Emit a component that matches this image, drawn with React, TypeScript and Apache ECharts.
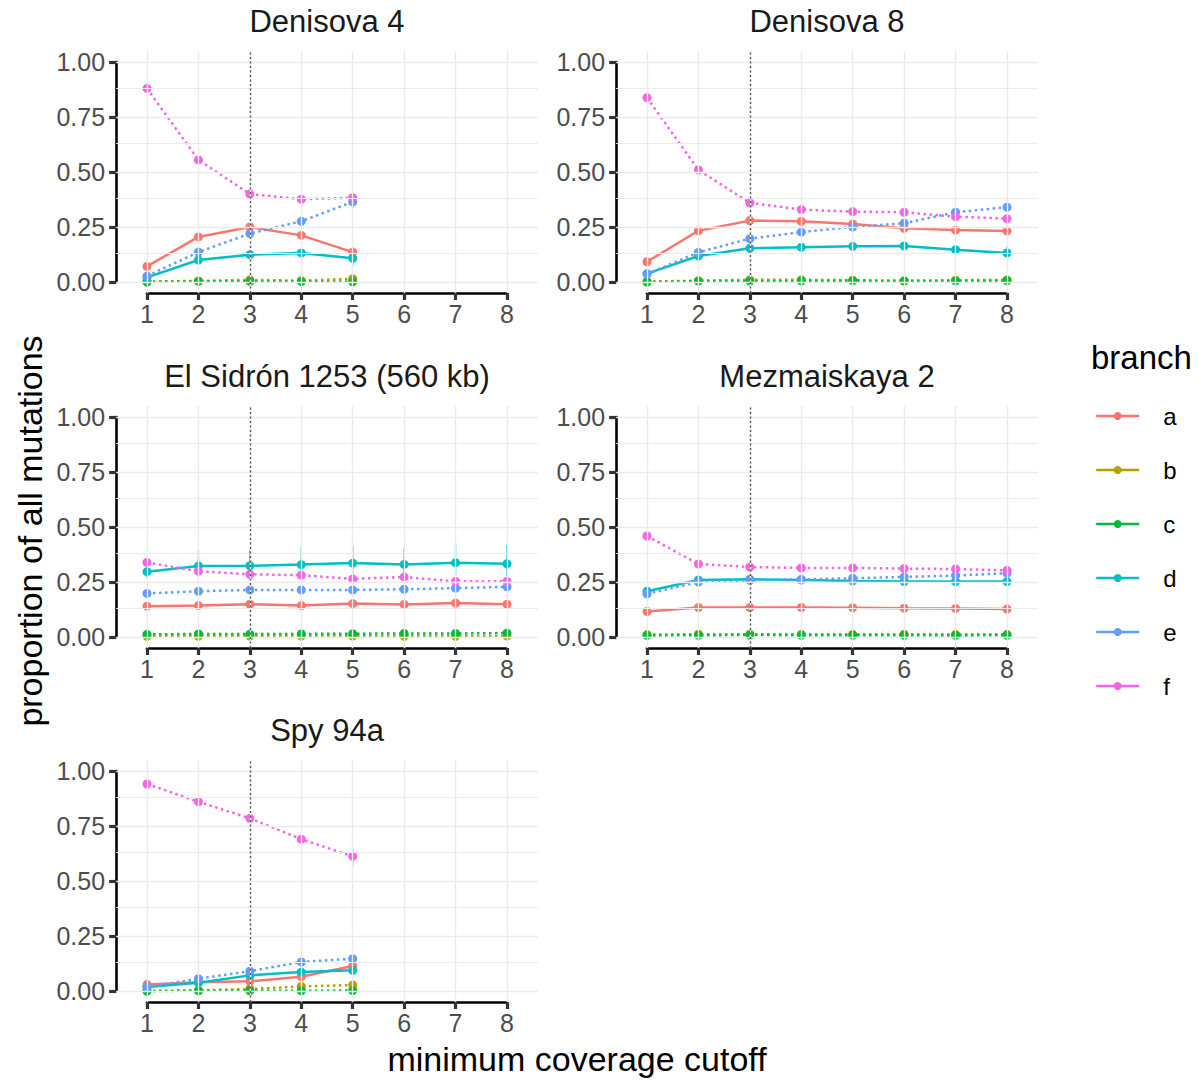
import React, { useEffect, useRef } from 'react';
import * as echarts from 'echarts';

// ---------- data ----------
const cutoffs = [1, 2, 3, 4, 5, 6, 7, 8];
const referenceCutoff = 3;
const xBreaks = [1, 2, 3, 4, 5, 6, 7, 8];
const yBreaks = [0, 0.25, 0.5, 0.75, 1];
const yMinorBreaks = [0.125, 0.375, 0.625, 0.875];

const branches = ['a', 'b', 'c', 'd', 'e', 'f'];
const branchColors = ['#F8766D', '#B79F00', '#00BA38', '#00BFC4', '#619CFF', '#F564E3'];
const branchDotted = [false, true, true, false, true, true];

const panelTitles = ['Denisova 4', 'Denisova 8', 'El Sidrón 1253 (560 kb)', 'Mezmaiskaya 2', 'Spy 94a'];

// rows: branch a..f, columns: cutoff 1..n
const denisova4 = [
  [0.071, 0.205, 0.25, 0.212, 0.136],
  [0.002, 0.005, 0.01, 0.006, 0.015],
  [0.0, 0.003, 0.003, 0.002, 0.001],
  [0.021, 0.1, 0.124, 0.132, 0.108],
  [0.027, 0.136, 0.22, 0.276, 0.364],
  [0.88, 0.555, 0.4, 0.376, 0.383],
];
const denisova8 = [
  [0.092, 0.233, 0.279, 0.276, 0.264, 0.244, 0.236, 0.232],
  [0.002, 0.006, 0.01, 0.01, 0.008, 0.006, 0.008, 0.01],
  [0.0, 0.004, 0.004, 0.005, 0.006, 0.004, 0.005, 0.006],
  [0.038, 0.118, 0.153, 0.158, 0.162, 0.164, 0.147, 0.132],
  [0.036, 0.135, 0.197, 0.227, 0.25, 0.267, 0.317, 0.34],
  [0.838, 0.509, 0.36, 0.329, 0.32, 0.317, 0.297, 0.288],
];
const elSidron = [
  [0.14, 0.143, 0.149, 0.143, 0.152, 0.148, 0.154, 0.149],
  [0.003, 0.003, 0.004, 0.004, 0.004, 0.003, 0.003, 0.004],
  [0.012, 0.014, 0.013, 0.014, 0.015, 0.016, 0.016, 0.018],
  [0.297, 0.323, 0.324, 0.329, 0.336, 0.33, 0.338, 0.333],
  [0.198, 0.208, 0.214, 0.214, 0.214, 0.217, 0.222, 0.228],
  [0.339, 0.299, 0.285, 0.281, 0.264, 0.273, 0.253, 0.253],
];
const mezmaiskaya2 = [
  [0.116, 0.134, 0.134, 0.134, 0.133, 0.131, 0.13, 0.127],
  [0.011, 0.013, 0.013, 0.012, 0.012, 0.013, 0.012, 0.012],
  [0.007, 0.008, 0.009, 0.008, 0.008, 0.008, 0.007, 0.008],
  [0.208, 0.259, 0.262, 0.259, 0.255, 0.252, 0.252, 0.252],
  [0.196, 0.25, 0.258, 0.262, 0.267, 0.273, 0.279, 0.29],
  [0.459, 0.332, 0.318, 0.314, 0.314, 0.311, 0.309, 0.303],
];
const spy94a = [
  [0.03, 0.04, 0.044, 0.065, 0.114],
  [0.0, 0.003, 0.009, 0.021, 0.027],
  [0.0, 0.001, 0.001, 0.001, 0.002],
  [0.018, 0.038, 0.071, 0.086, 0.094],
  [0.018, 0.056, 0.09, 0.132, 0.147],
  [0.941, 0.86, 0.785, 0.69, 0.612],
];

// error ranges: [cutoff, branch index, low, high]
const denisova4Err = [[5, 3, 0.07, 0.16], [5, 4, 0.335, 0.39], [5, 5, 0.37, 0.4]];
const denisova8Err = [[8, 3, 0.11, 0.16], [7, 3, 0.13, 0.165], [8, 4, 0.32, 0.36]];
const elSidronErr = [
  [1, 3, 0.27, 0.33], [2, 3, 0.27, 0.392], [3, 3, 0.27, 0.395], [4, 3, 0.28, 0.409],
  [5, 3, 0.28, 0.415], [6, 3, 0.28, 0.407], [7, 3, 0.28, 0.425], [8, 3, 0.28, 0.418],
  [1, 5, 0.32, 0.36], [7, 4, 0.205, 0.24], [8, 4, 0.21, 0.245],
];
const mezmaiskaya2Err = [[8, 4, 0.275, 0.3]];
const spy94aErr = [[5, 5, 0.565, 0.645], [5, 3, 0.08, 0.11]];

// ---------- layout ----------
const FONT = "'Liberation Sans', Arial, Helvetica, sans-serif";
const UNIT_X = 360 / 7;
const UNIT_Y = 220;
const COL_X1 = [147, 647];
const ROW_Y1 = [62, 417, 771];

const panels = [
  { title: panelTitles[0], values: denisova4, errors: denisova4Err, col: 0, row: 0 },
  { title: panelTitles[1], values: denisova8, errors: denisova8Err, col: 1, row: 0 },
  { title: panelTitles[2], values: elSidron, errors: elSidronErr, col: 0, row: 1 },
  { title: panelTitles[3], values: mezmaiskaya2, errors: mezmaiskaya2Err, col: 1, row: 1 },
  { title: panelTitles[4], values: spy94a, errors: spy94aErr, col: 0, row: 2 },
];

function buildOption() {
  const grid: any[] = [];
  const xAxis: any[] = [];
  const yAxis: any[] = [];
  const series: any[] = [];
  const graphic: any[] = [];

  const axisLine = { show: true, onZero: false, lineStyle: { color: '#000', width: 2.6 } };
  const axisTick = { show: true, length: 7, lineStyle: { color: '#333', width: 3.2 } };
  const axisLabel = { margin: 10, fontSize: 25, color: '#4D4D4D', fontFamily: FONT };
  const majorStyle = { color: '#EBEBEB', width: 1.4, type: 'solid' };
  const minorStyle = { color: '#EBEBEB', width: 1.0, type: 'solid' };

  panels.forEach((p, i) => {
    const x1 = COL_X1[p.col];
    const y1 = ROW_Y1[p.row];
    const ga = 2 * i;
    const gb = 2 * i + 1;
    grid.push({ left: x1 - 0.6 * UNIT_X, top: y1 - 0.05 * UNIT_Y, width: 8.2 * UNIT_X, height: 1.1 * UNIT_Y });
    grid.push({ left: x1, top: y1, width: 7 * UNIT_X, height: UNIT_Y });

    xAxis.push({ type: 'value', gridIndex: ga, min: 0.4, max: 8.6, show: false });
    xAxis.push({
      type: 'value', gridIndex: gb, min: 1, max: 8, interval: 1, position: 'bottom', offset: 0.05 * UNIT_Y,
      axisLine, axisTick, axisLabel: { ...axisLabel, margin: 8 }, splitLine: { show: false },
    });
    yAxis.push({ type: 'value', gridIndex: ga, min: -0.05, max: 1.05, show: false });
    yAxis.push({
      type: 'value', gridIndex: gb, min: 0, max: 1, interval: 0.25, position: 'left', offset: 0.6 * UNIT_X,
      axisLine, axisTick, axisLabel: { ...axisLabel, margin: 11, formatter: (v: number) => v.toFixed(2) },
      splitLine: { show: false },
    });

    // panel grid lines
    series.push({
      type: 'line', name: 'grid' + i, xAxisIndex: ga, yAxisIndex: ga, data: [], z: 1, silent: true,
      markLine: {
        silent: true, symbol: ['none', 'none'], label: { show: false }, emphasis: { disabled: true },
        data: [
          ...yMinorBreaks.map((v) => ({ yAxis: v, lineStyle: minorStyle })),
          ...yBreaks.map((v) => ({ yAxis: v, lineStyle: majorStyle })),
          ...xBreaks.map((v) => ({ xAxis: v, lineStyle: majorStyle })),
        ],
      },
    });

    // error ranges
    series.push({
      type: 'custom', name: 'range' + i, xAxisIndex: ga, yAxisIndex: ga, z: 2, silent: true,
      data: p.errors.map((e) => [e[0], e[2], e[3], e[1]]),
      encode: { x: 0, y: [1, 2] },
      renderItem: (_params: any, api: any) => {
        const a = api.coord([api.value(0), api.value(1)]);
        const b = api.coord([api.value(0), api.value(2)]);
        return {
          type: 'line',
          shape: { x1: a[0], y1: a[1], x2: b[0], y2: b[1] },
          style: { stroke: branchColors[api.value(3)], lineWidth: 1.4 },
        };
      },
    });

    // branch lines
    branches.forEach((b, k) => {
      series.push({
        name: b, type: 'line', xAxisIndex: ga, yAxisIndex: ga,
        data: p.values[k].map((v, j) => [cutoffs[j], v]),
        symbol: 'circle', symbolSize: 9, showSymbol: true, clip: false, z: 3, silent: true,
        itemStyle: { color: branchColors[k] },
        lineStyle: { color: branchColors[k], width: 2.5, type: branchDotted[k] ? [2.5, 3.5] : 'solid' },
        emphasis: { disabled: true },
      });
    });

    // reference cutoff line
    series.push({
      type: 'line', name: 'ref' + i, xAxisIndex: ga, yAxisIndex: ga, data: [], z: 5, silent: true,
      markLine: {
        silent: true, symbol: ['none', 'none'], label: { show: false }, emphasis: { disabled: true },
        lineStyle: { color: '#555', width: 1.4, type: [2, 2.5] },
        data: [{ xAxis: referenceCutoff }],
      },
    });

    graphic.push({
      type: 'text', x: x1 + 3.5 * UNIT_X, y: y1 - 41,
      style: { text: p.title, font: `31px ${FONT}`, fill: '#1A1A1A', textAlign: 'center', textVerticalAlign: 'middle' },
    });
  });

  graphic.push({
    type: 'text', x: 30, y: 531, rotation: Math.PI / 2,
    style: { text: 'proportion of all mutations', font: `34px ${FONT}`, fill: '#000', textAlign: 'center', textVerticalAlign: 'middle' },
  });
  graphic.push({
    type: 'text', x: 577, y: 1059,
    style: { text: 'minimum coverage cutoff', font: `34px ${FONT}`, fill: '#000', textAlign: 'center', textVerticalAlign: 'middle' },
  });
  graphic.push({
    type: 'text', x: 1091, y: 357,
    style: { text: 'branch', font: `33px ${FONT}`, fill: '#000', textAlign: 'left', textVerticalAlign: 'middle' },
  });

  return {
    animation: false,
    backgroundColor: '#fff',
    grid, xAxis, yAxis, series, graphic,
    legend: {
      data: branches, orient: 'vertical', left: 1095, top: 389, padding: 0,
      itemWidth: 43, itemHeight: 10, itemGap: 0, selectedMode: false,
      lineStyle: { type: 'solid', width: 2.4 },
      textStyle: { fontSize: 24, color: '#000', fontFamily: FONT, lineHeight: 54, padding: [0, 0, 0, 19] },
    },
  };
}

export default function App() {
  const ref = useRef<HTMLDivElement>(null);
  useEffect(() => {
    const chart = echarts.init(ref.current as HTMLDivElement, null, { renderer: 'svg' });
    chart.setOption(buildOption() as any);
    return () => chart.dispose();
  }, []);
  return (
    <div
      ref={ref}
      style={{ position: 'absolute', left: 0, top: 0, width: 1202, height: 1080, background: '#fff' }}
    />
  );
}
